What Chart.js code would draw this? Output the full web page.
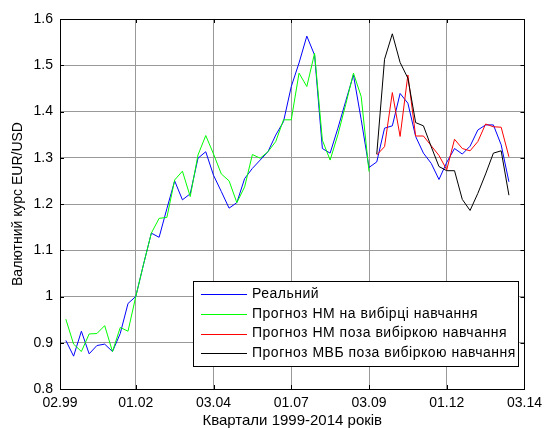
<!DOCTYPE html>
<html>
<head>
<meta charset="utf-8">
<script src="https://cdn.jsdelivr.net/npm/chart.js@4.4.0/dist/chart.umd.min.js"></script>
<style>
  html, body { margin: 0; padding: 0; background: #fff; }
</style>
</head>
<body>
<canvas id="chartLine" width="548" height="428"></canvas>
<script>
// quarter index of each tick, with its label
const xTickPos = [0.25, 10, 20, 30, 40, 50, 60];
const xTickLabels = ["02.99", "01.02", "03.04", "01.07", "03.09", "01.12", "03.14"];

// real EUR/USD rate, quarters 1..58
const realRate = [
    0.905, 0.871, 0.925, 0.876, 0.894, 0.897, 0.881, 0.920, 0.985, 1.000,
    1.070, 1.137, 1.128, 1.190, 1.250, 1.209, 1.222, 1.299, 1.313, 1.262,
    1.227, 1.191, 1.203, 1.255, 1.277, 1.295, 1.313, 1.349, 1.378, 1.454,
    1.505, 1.563, 1.522, 1.320, 1.310, 1.364, 1.422, 1.479, 1.382, 1.279,
    1.291, 1.364, 1.369, 1.439, 1.418, 1.346, 1.310, 1.288, 1.253, 1.290,
    1.320, 1.308, 1.325, 1.360, 1.371, 1.371, 1.328, 1.248
];
// neural net forecast on the training sample, quarters 1..40
const nnTrain = [
    0.951, 0.897, 0.881, 0.919, 0.920, 0.937, 0.881, 0.933, 0.925, 1.000,
    1.070, 1.137, 1.169, 1.171, 1.252, 1.271, 1.216, 1.306, 1.348, 1.308,
    1.265, 1.250, 1.203, 1.237, 1.307, 1.299, 1.313, 1.335, 1.382, 1.382,
    1.483, 1.454, 1.526, 1.338, 1.295, 1.350, 1.415, 1.483, 1.432, 1.270
];
// out-of-sample forecasts, quarters 41..58
const nnTest = [
    1.306, 1.324, 1.441, 1.346, 1.479, 1.347, 1.347, 1.326, 1.305, 1.274,
    1.340, 1.320, 1.315, 1.335, 1.373, 1.367, 1.366, 1.302
];
const mvbTest = [
    1.308, 1.513, 1.568, 1.506, 1.472, 1.376, 1.369, 1.324, 1.281, 1.272,
    1.272, 1.210, 1.186, 1.223, 1.265, 1.310, 1.315, 1.219
];

const toPoints = (arr, start) => arr.map((v, i) => ({ x: start + i, y: v }));

const seriesLabels = [
    "Реальний",
    "Прогноз НМ на вибірці навчання",
    "Прогноз НМ поза вибіркою навчання",
    "Прогноз МВБ поза вибіркою навчання"
];
const seriesColors = ["#0000ff", "#00ff00", "#ff0000", "#000000"];
const seriesData = [toPoints(realRate, 1), toPoints(nnTrain, 1), toPoints(nnTest, 41), toPoints(mvbTest, 41)];

const datasets = seriesData.map((d, i) => ({
    label: seriesLabels[i],
    data: d,
    borderColor: seriesColors[i],
    backgroundColor: seriesColors[i],
    borderWidth: 1,
    pointRadius: 0,
    tension: 0,
    order: 4 - i
}));

const FONT = "'Liberation Sans', Arial, sans-serif";

// frame, inward tick marks and the boxed legend, MATLAB style
const matlabBox = {
    id: 'matlabBox',
    afterDatasetsDraw(chart) {
        const ctx = chart.ctx;
        const a = chart.chartArea;
        ctx.save();
        ctx.strokeStyle = '#000';
        ctx.lineWidth = 1;
        ctx.strokeRect(Math.round(a.left) + 0.5, Math.round(a.top) + 0.5,
            Math.round(a.right - a.left), Math.round(a.bottom - a.top));
        ctx.beginPath();
        chart.scales.x.ticks.forEach(t => {
            const px = Math.round(chart.scales.x.getPixelForValue(t.value)) + 0.5;
            ctx.moveTo(px, a.top); ctx.lineTo(px, a.top + 4);
            ctx.moveTo(px, a.bottom); ctx.lineTo(px, a.bottom - 4);
        });
        chart.scales.y.ticks.forEach(t => {
            const py = Math.round(chart.scales.y.getPixelForValue(t.value)) + 0.5;
            ctx.moveTo(a.left, py); ctx.lineTo(a.left + 4, py);
            ctx.moveTo(a.right, py); ctx.lineTo(a.right - 4, py);
        });
        ctx.stroke();

        // legend
        const lx = 193, ly = 281, lw = 325, lh = 85;
        ctx.fillStyle = '#fff';
        ctx.fillRect(lx, ly, lw, lh);
        ctx.strokeStyle = '#000';
        ctx.strokeRect(lx + 0.5, ly + 0.5, lw, lh);
        ctx.font = '14px ' + FONT;
        ctx.letterSpacing = '0.5px';
        ctx.textBaseline = 'middle';
        chart.data.datasets.forEach((ds, i) => {
            const y = ly + 13 + i * 19.8;
            ctx.strokeStyle = ds.borderColor;
            ctx.beginPath();
            ctx.moveTo(lx + 8, Math.round(y) + 0.5);
            ctx.lineTo(lx + 54, Math.round(y) + 0.5);
            ctx.stroke();
            ctx.fillStyle = '#000';
            ctx.fillText(ds.label, lx + 59, y);
        });
        ctx.restore();
    }
};

const ctx = document.getElementById("chartLine").getContext('2d');
new Chart(ctx, {
    type: "line",
    data: { datasets: datasets },
    options: {
        responsive: false,
        animation: false,
        layout: { padding: { top: 19, right: 18, left: 0, bottom: 0 } },
        scales: {
            x: {
                type: 'linear',
                min: 0.25,
                max: 60,
                afterBuildTicks: scale => { scale.ticks = xTickPos.map(v => ({ value: v })); },
                afterFit: scale => { scale.height = 39; },
                grid: { color: '#999', drawTicks: false },
                border: { color: '#000' },
                ticks: {
                    color: '#000',
                    padding: 6,
                    maxRotation: 0,
                    autoSkip: false,
                    font: { family: FONT, size: 14 },
                    callback: (v, i) => xTickLabels[i]
                },
                title: {
                    display: true,
                    text: "Квартали 1999-2014 років",
                    color: '#000',
                    font: { family: FONT, size: 15, lineHeight: 1 },
                    padding: { top: 0, bottom: 0 }
                }
            },
            y: {
                min: 0.8,
                max: 1.6,
                afterFit: scale => { scale.width = 60; },
                grid: { color: '#999', drawTicks: false },
                border: { color: '#000' },
                ticks: {
                    stepSize: 0.1,
                    color: '#000',
                    padding: 7,
                    font: { family: FONT, size: 14 },
                    callback: v => String(Math.round(v * 10) / 10)
                },
                title: {
                    display: true,
                    text: "Валютний курс EUR/USD",
                    color: '#000',
                    font: { family: FONT, size: 14, lineHeight: 1 },
                    padding: { top: 11, bottom: 0 }
                }
            }
        },
        plugins: {
            legend: { display: false },
            tooltip: { enabled: false }
        }
    },
    plugins: [matlabBox]
});
</script>
</body>
</html>
